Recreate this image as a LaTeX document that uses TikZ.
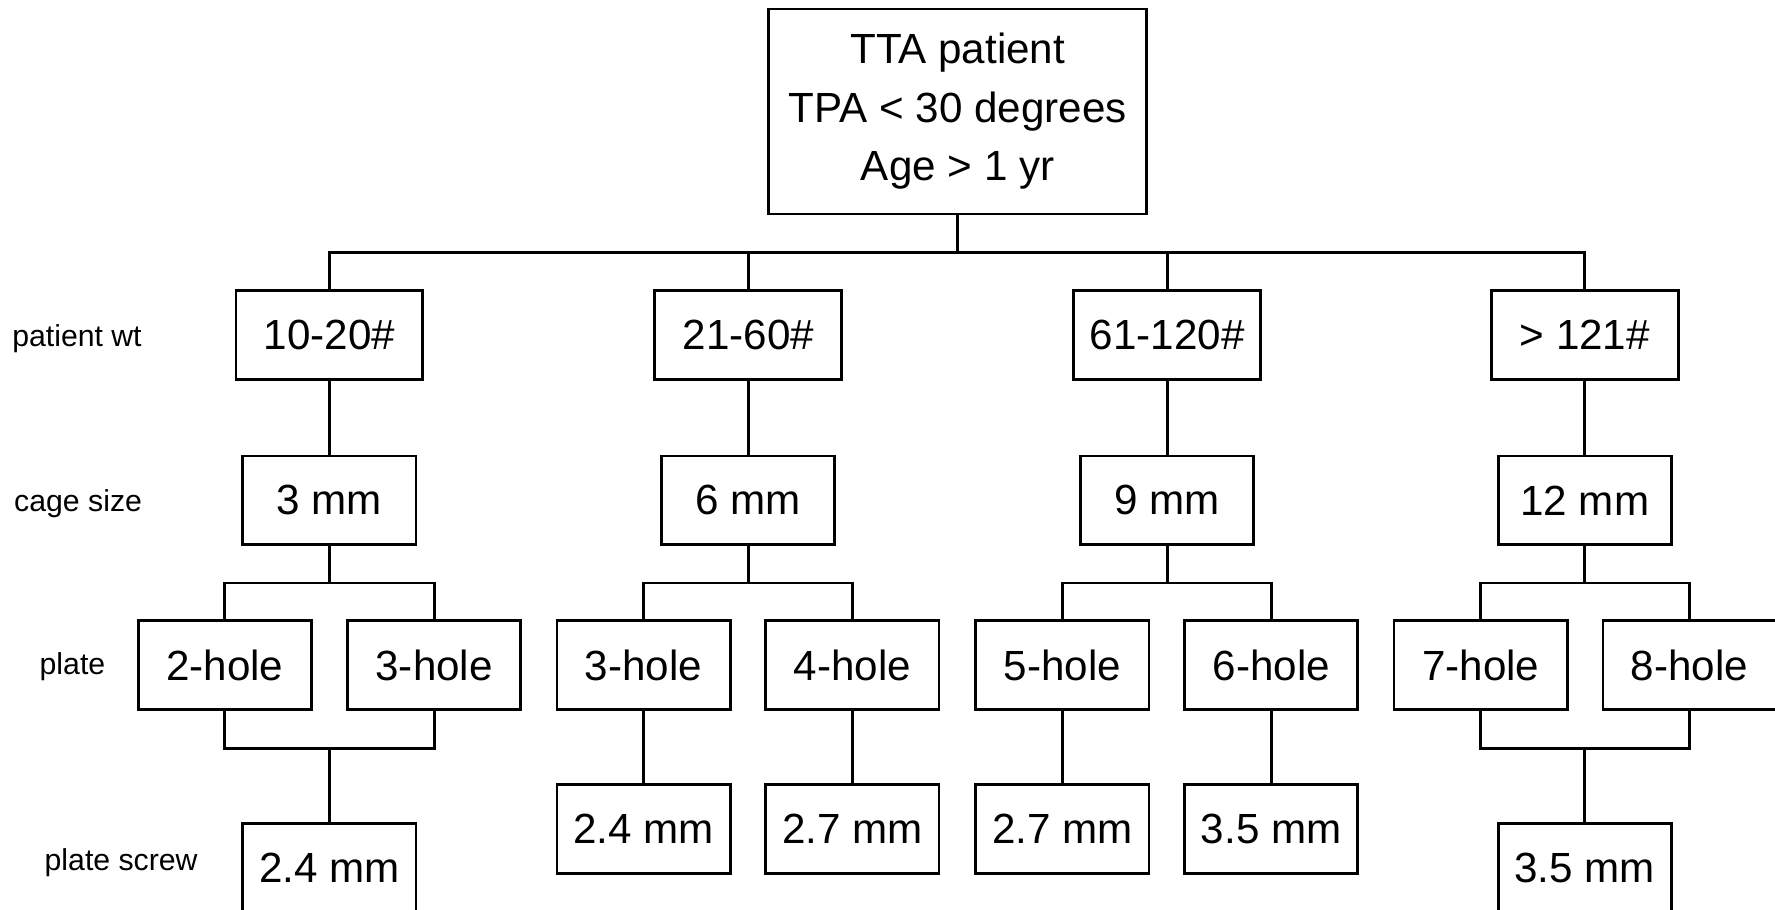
\documentclass[tikz,border=0pt]{standalone}
\usepackage{fontspec}
\setmainfont{Liberation Sans}
\usepackage{tikz}

\begin{document}
\begin{tikzpicture}
	[main node/.style={rectangle, draw, line width=0.7pt, inner sep=0pt,
	   minimum width=1.53cm, minimum height=0.785cm,
	   font=\fontsize{10.6}{14.7}\selectfont},
	 wt node/.style={main node, minimum width=1.65cm},
	 row label/.style={font=\fontsize{7.6}{9}\selectfont},
	 every path/.style={line width=0.7pt}]
	\useasboundingbox (0,0) rectangle (15.68,-8.03);
	% top box
	\node[main node, minimum width=3.34cm, minimum height=1.81cm, align=center]
	  (top) at (8.46,-0.985) {TTA patient\\TPA < 30 degrees\\Age > 1 yr};
	% row labels
	\node[row label] (lwt)    at (0.68,-2.99) {patient wt};
	\node[row label] (lcage)  at (0.69,-4.45) {cage size};
	\node[row label] (lplate) at (0.64,-5.89) {plate};
	\node[row label] (lscrew) at (1.07,-7.62) {plate screw};
	% patient weight
	\node[wt node] (w1) at (2.91,-2.96)  {10-20\#};
	\node[wt node] (w2) at (6.61,-2.96)  {21-60\#};
	\node[wt node] (w3) at (10.31,-2.96) {61-120\#};
	\node[wt node] (w4) at (14.00,-2.96) {> 121\#};
	% cage size
	\node[main node] (c1) at (2.91,-4.42)  {3 mm};
	\node[main node] (c2) at (6.61,-4.42)  {6 mm};
	\node[main node] (c3) at (10.31,-4.42) {9 mm};
	\node[main node] (c4) at (14.00,-4.42) {12 mm};
	% plate
	\node[main node] (p1) at (1.985,-5.875)  {2-hole};
	\node[main node] (p2) at (3.835,-5.875)  {3-hole};
	\node[main node] (p3) at (5.685,-5.875)  {3-hole};
	\node[main node] (p4) at (7.53,-5.875)   {4-hole};
	\node[main node] (p5) at (9.385,-5.875)  {5-hole};
	\node[main node] (p6) at (11.23,-5.875)  {6-hole};
	\node[main node] (p7) at (13.08,-5.875)  {7-hole};
	\node[main node] (p8) at (14.925,-5.875) {8-hole};
	% plate screw
	\node[main node] (s1) at (2.91,-7.665)  {2.4 mm};
	\node[main node] (s2) at (5.685,-7.325) {2.4 mm};
	\node[main node] (s3) at (7.53,-7.325)  {2.7 mm};
	\node[main node] (s4) at (9.385,-7.325) {2.7 mm};
	\node[main node] (s5) at (11.23,-7.325) {3.5 mm};
	\node[main node] (s6) at (14.00,-7.665) {3.5 mm};
	% junctions
	\coordinate (bar) at (8.46,-2.23);
	\coordinate (b1) at (2.91,-5.15);
	\coordinate (b2) at (6.61,-5.15);
	\coordinate (b3) at (10.31,-5.15);
	\coordinate (b4) at (14.00,-5.15);
	\coordinate (d1) at (2.91,-6.61);
	\coordinate (d4) at (14.00,-6.61);
	% connectors
	\draw (top) -- (bar);
	\draw (w1) |- (bar) -| (w4);
	\draw (w2) -- (w2 |- bar);
	\draw (w3) -- (w3 |- bar);
	\draw (w1) -- (c1);
	\draw (w2) -- (c2);
	\draw (w3) -- (c3);
	\draw (w4) -- (c4);
	\draw (c1) -- (b1);
	\draw (c2) -- (b2);
	\draw (c3) -- (b3);
	\draw (c4) -- (b4);
	\draw (p1) |- (b1) -| (p2);
	\draw (p3) |- (b2) -| (p4);
	\draw (p5) |- (b3) -| (p6);
	\draw (p7) |- (b4) -| (p8);
	\draw (p1) |- (d1) -| (p2);
	\draw (d1) -- (s1);
	\draw (p3) -- (s2);
	\draw (p4) -- (s3);
	\draw (p5) -- (s4);
	\draw (p6) -- (s5);
	\draw (p7) |- (d4) -| (p8);
	\draw (d4) -- (s6);
\end{tikzpicture}
\end{document}
